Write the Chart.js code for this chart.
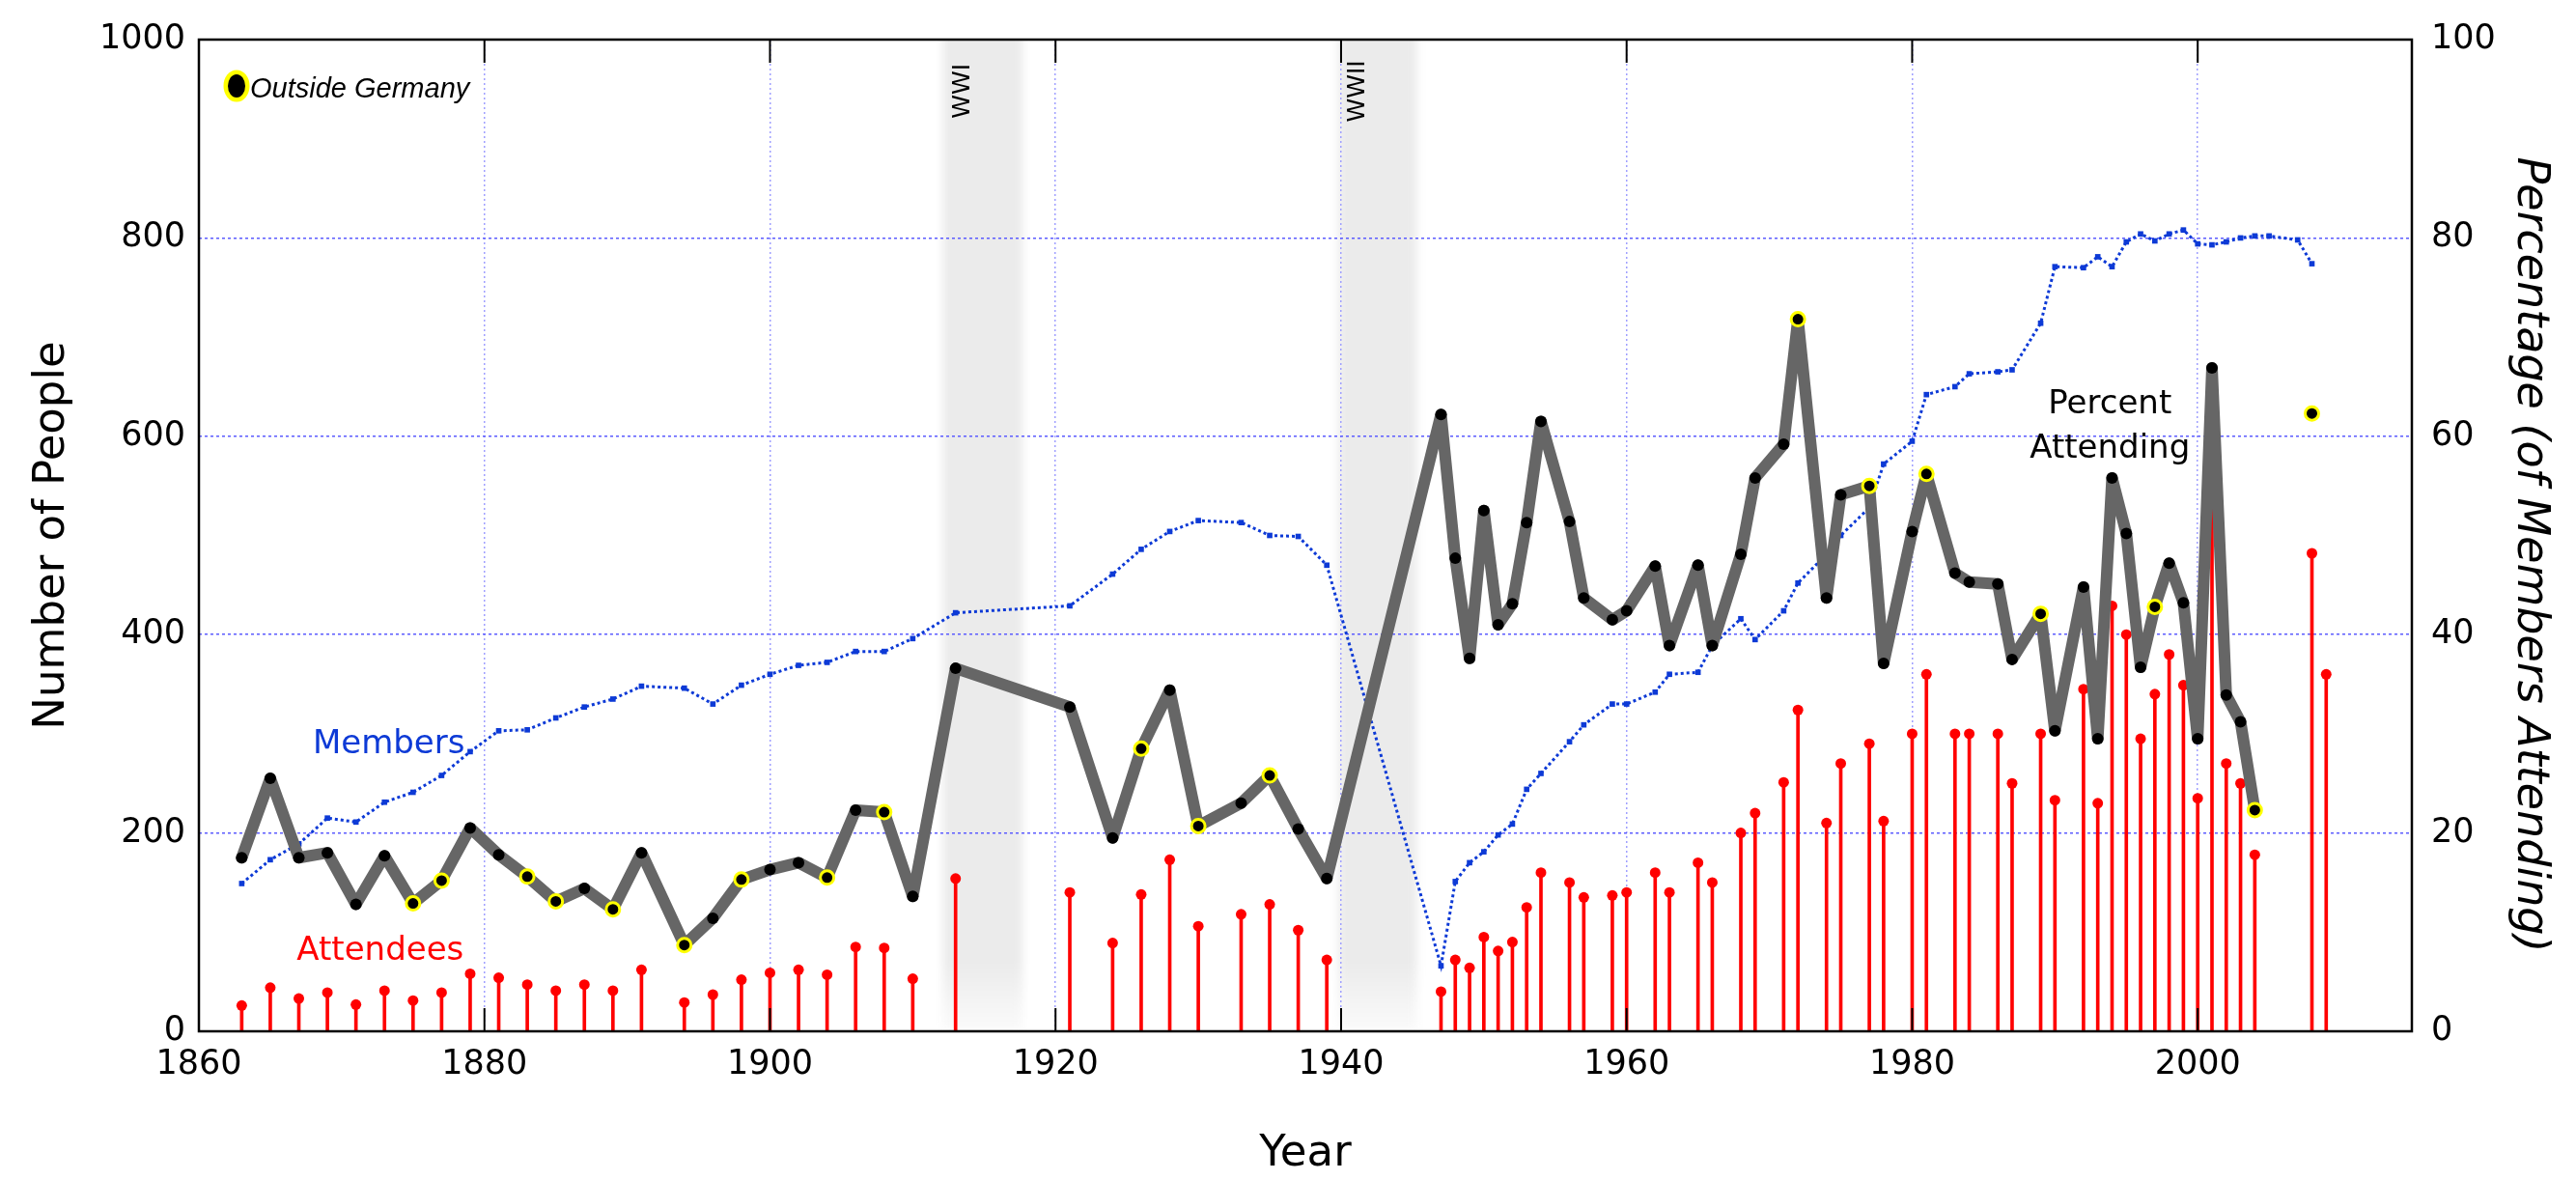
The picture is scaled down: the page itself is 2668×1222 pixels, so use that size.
<!DOCTYPE html>
<html>
<head>
<meta charset="utf-8">
<title>Members, Attendees and Percent Attending</title>
<script src="https://cdn.jsdelivr.net/npm/chart.js@4.4.1/dist/chart.umd.min.js"></script>
<style>
  html, body { margin: 0; padding: 0; background: #ffffff; }
  #grafico { display: block; }
</style>
</head>
<body>
<canvas id="grafico" width="2668" height="1222"></canvas>
<script>
// Años con reunión (asistentes y porcentaje)
const meetingYears = [1863, 1865, 1867, 1869, 1871, 1873, 1875, 1877, 1879, 1881, 1883, 1885, 1887, 1889, 1891,
  1894, 1896, 1898, 1900, 1902, 1904, 1906, 1908, 1910, 1913, 1921, 1924, 1926, 1928, 1930, 1933, 1935, 1937, 1939,
  1947, 1948, 1949, 1950, 1951, 1952, 1953, 1954, 1956, 1957, 1959, 1960, 1962, 1963, 1965, 1966, 1968, 1969,
  1971, 1972, 1974, 1975, 1977, 1978, 1980, 1981, 1983, 1984, 1986, 1987, 1989, 1990, 1992, 1993, 1994, 1995,
  1996, 1997, 1998, 1999, 2000, 2001, 2002, 2003, 2004, 2008, 2009];

const attendees = [26, 44, 33, 39, 27, 41, 31, 39, 58, 54, 47, 41, 47, 41, 62,
  29, 37, 52, 59, 62, 57, 85, 84, 53, 154, 140, 89, 138, 173, 106, 118, 128, 102, 72,
  40, 72, 64, 95, 81, 90, 125, 160, 150, 135, 137, 140, 160, 140, 170, 150, 200, 220,
  251, 324, 210, 270, 290, 212, 300, 360, 300, 300, 300, 250, 300, 233, 345, 230, 429, 400,
  295, 340, 380, 349, 235, 522, 270, 250, 178, 482, 360];

// Porcentaje de miembros que asistieron (eje derecho)
const percentAttending = [17.5, 25.5, 17.5, 18.0, 12.8, 17.7, 12.9, 15.2, 20.5, 17.8, 15.6, 13.1, 14.4, 12.3, 18.0,
  8.7, 11.4, 15.3, 16.3, 17.0, 15.5, 22.3, 22.1, 13.6, 36.6, 32.7, 19.5, 28.5, 34.4, 20.7, 23.0, 25.8, 20.4, 15.4,
  62.2, 47.7, 37.6, 52.5, 41.0, 43.1, 51.3, 61.5, 51.4, 43.7, 41.5, 42.4, 46.9, 38.9, 47.0, 38.9, 48.1, 55.8,
  59.2, 71.8, 43.7, 54.1, 55.0, 37.1, 50.4, 56.2, 46.2, 45.3, 45.1, 37.5, 42.1, 30.3, 44.8, 29.5, 55.8, 50.2,
  36.7, 42.8, 47.2, 43.2, 29.5, 66.9, 33.9, 31.2, 22.3, 62.3, null];

// Miembros
const memberYears = [1863, 1865, 1867, 1869, 1871, 1873, 1875, 1877, 1879, 1881, 1883, 1885, 1887, 1889, 1891,
  1894, 1896, 1898, 1900, 1902, 1904, 1906, 1908, 1910, 1913, 1921, 1924, 1926, 1928, 1930, 1933, 1935, 1937, 1939,
  1947, 1948, 1949, 1950, 1951, 1952, 1953, 1954, 1956, 1957, 1959, 1960, 1962, 1963, 1965, 1966, 1968, 1969,
  1971, 1972, 1974, 1975, 1977, 1978, 1980, 1981, 1983, 1984, 1986, 1987, 1989, 1990, 1992, 1993, 1994, 1995,
  1996, 1997, 1998, 1999, 2000, 2001, 2002, 2003, 2004, 2005, 2007, 2008];

const members = [149, 173, 189, 215, 211, 231, 241, 258, 282, 303, 304, 316, 327, 335, 348,
  346, 330, 349, 360, 369, 372, 383, 383, 396, 422, 429, 461, 486, 504, 515, 513, 500, 499, 470,
  66, 151, 170, 181, 198, 209, 244, 260, 292, 309, 330, 330, 342, 360, 362, 389, 416, 395,
  424, 452, 481, 500, 528, 572, 595, 642, 650, 663, 665, 667, 714, 771, 770, 781, 771, 796,
  804, 797, 804, 808, 794, 793, 796, 800, 802, 802, 798, 774];

// Reuniones fuera de Alemania
const outsideGermany = [1875, 1877, 1883, 1885, 1889, 1894, 1898, 1904, 1908, 1926, 1930, 1935,
  1972, 1977, 1981, 1989, 1997, 2004, 2008];

const xTicks = [1860, 1880, 1900, 1920, 1940, 1960, 1980, 2000];
const yTicks = [0, 200, 400, 600, 800, 1000];
const y2Ticks = [0, 20, 40, 60, 80, 100];

const warNames = ['WWI', 'WWII'];
const warStart = [1912.1, 1939.8];
const warEnd = [1917.7, 1945.3];

const azul = '#0d3ad6';
const fuente = 'DejaVu Sans';

// Puntos del porcentaje: los años con miembros pero sin reunión cortan la línea
const todosLosAnios = Array.from(new Set([...meetingYears, ...memberYears])).sort((a, b) => a - b);
const puntosPorcentaje = todosLosAnios.map(anio => {
  const i = meetingYears.indexOf(anio);
  return { x: anio, y: i >= 0 ? percentAttending[i] : null };
});

const esFuera = c => c.raw && outsideGermany.includes(c.raw.x);
const sinComas = v => String(v);

// Bandas grises de las guerras (debajo de la rejilla)
const guerrasPlugin = {
  id: 'guerras',
  beforeDraw(chart) {
    const { ctx, chartArea: a, scales: { x } } = chart;
    ctx.save();
    ctx.beginPath();
    ctx.rect(a.left, a.top, a.right - a.left, a.bottom - a.top);
    ctx.clip();
    ctx.filter = 'blur(4px)';
    const g = ctx.createLinearGradient(0, a.top, 0, a.bottom);
    g.addColorStop(0, '#ebebeb');
    g.addColorStop(0.93, '#ebebeb');
    g.addColorStop(1, '#fbfbfb');
    ctx.fillStyle = g;
    warNames.forEach((n, i) => {
      const x0 = x.getPixelForValue(warStart[i]);
      const x1 = x.getPixelForValue(warEnd[i]);
      ctx.fillRect(x0, a.top - 30, x1 - x0, a.bottom - a.top + 30);
    });
    ctx.restore();
  }
};

// Marco, marcas hacia adentro y textos
const marcoPlugin = {
  id: 'marco',
  afterDraw(chart) {
    const { ctx, chartArea: a, scales } = chart;
    const sx = scales.x, sy = scales.y;
    ctx.save();

    ctx.strokeStyle = '#000000';
    ctx.lineWidth = 2;
    ctx.beginPath();
    xTicks.forEach(v => {
      const px = sx.getPixelForValue(v);
      ctx.moveTo(px, a.bottom); ctx.lineTo(px, a.bottom - 24);
      ctx.moveTo(px, a.top); ctx.lineTo(px, a.top + 24);
    });
    ctx.stroke();
    ctx.lineWidth = 2.5;
    ctx.strokeRect(a.left, a.top, a.right - a.left, a.bottom - a.top);

    // Título del eje derecho (un poco más abajo que el centro, como el original)
    ctx.save();
    ctx.font = 'italic 46px "' + fuente + '"';
    ctx.fillStyle = '#000000';
    ctx.textAlign = 'center';
    ctx.textBaseline = 'middle';
    ctx.translate(chart.width - 48, (a.top + a.bottom) / 2 + 20);
    ctx.rotate(Math.PI / 2);
    ctx.fillText('Percentage (of Members Attending)', 0, 0);
    ctx.restore();

    // Etiquetas de las series
    ctx.textAlign = 'center';
    ctx.textBaseline = 'alphabetic';
    ctx.font = '34px "' + fuente + '"';
    ctx.fillStyle = azul;
    ctx.fillText('Members', sx.getPixelForValue(1873.3), sy.getPixelForValue(280));
    ctx.fillStyle = '#ff0000';
    ctx.fillText('Attendees', sx.getPixelForValue(1872.7), sy.getPixelForValue(72));
    ctx.fillStyle = '#000000';
    ctx.fillText('Percent', sx.getPixelForValue(1993.85), sy.getPixelForValue(623));
    ctx.fillText('Attending', sx.getPixelForValue(1993.85), sy.getPixelForValue(578));

    // Nombres de las guerras, girados
    ctx.font = '25px "' + fuente + '"';
    ctx.textBaseline = 'middle';
    [1913.5, 1941.2].forEach((anio, i) => {
      ctx.save();
      ctx.translate(sx.getPixelForValue(anio), sy.getPixelForValue(948));
      ctx.rotate(-Math.PI / 2);
      ctx.fillText(warNames[i], 0, 0);
      ctx.restore();
    });

    // Leyenda "Outside Germany"
    const lx = a.left + 39, ly = a.top + 48;
    ctx.fillStyle = '#ffff00';
    ctx.beginPath(); ctx.ellipse(lx, ly, 13.5, 16.5, 0, 0, Math.PI * 2); ctx.fill();
    ctx.fillStyle = '#000000';
    ctx.beginPath(); ctx.ellipse(lx, ly, 9, 12, 0, 0, Math.PI * 2); ctx.fill();
    ctx.font = 'italic 29px "Liberation Sans"';
    ctx.textAlign = 'left';
    ctx.textBaseline = 'alphabetic';
    ctx.fillText('Outside Germany', a.left + 53, a.top + 60);

    ctx.restore();
  }
};

function dibujarGrafica() {
  const ctx = document.getElementById('grafico').getContext('2d');
  const datosAsistentes = meetingYears.map((anio, i) => ({ x: anio, y: attendees[i] }));

  new Chart(ctx, {
    type: 'line',
    data: {
      datasets: [
        {
          type: 'bar',
          label: 'Attendees',
          data: datosAsistentes,
          backgroundColor: '#ff0000',
          borderWidth: 0,
          barThickness: 3,
          grouped: false,
          yAxisID: 'y',
          order: 3
        },
        {
          type: 'line',
          label: 'Attendees',
          data: datosAsistentes,
          showLine: false,
          pointRadius: 5.5,
          pointBackgroundColor: '#ff0000',
          pointBorderWidth: 0,
          yAxisID: 'y',
          order: 2
        },
        {
          type: 'line',
          label: 'Members',
          data: memberYears.map((anio, i) => ({ x: anio, y: members[i] })),
          borderColor: azul,
          borderWidth: 3,
          borderDash: [3, 3],
          pointStyle: 'rect',
          pointRadius: 4,
          pointBackgroundColor: azul,
          pointBorderWidth: 0,
          tension: 0,
          yAxisID: 'y',
          order: 1
        },
        {
          type: 'line',
          label: 'Percent Attending',
          data: puntosPorcentaje,
          borderColor: '#666666',
          borderWidth: 12,
          borderJoinStyle: 'round',
          borderCapStyle: 'round',
          spanGaps: false,
          pointRadius: c => esFuera(c) ? 7 : 6,
          pointBorderWidth: c => esFuera(c) ? 3 : 0,
          pointBorderColor: c => esFuera(c) ? '#ffff00' : '#000000',
          pointBackgroundColor: '#000000',
          tension: 0,
          yAxisID: 'y1',
          order: 0
        }
      ]
    },
    options: {
      responsive: false,
      animation: false,
      devicePixelRatio: 1,
      events: [],
      layout: { padding: { top: 28, right: 0, bottom: 0, left: 0 } },
      plugins: {
        legend: { display: false },
        tooltip: { enabled: false }
      },
      scales: {
        x: {
          type: 'linear',
          min: 1860,
          max: 2015,
          offset: false,
          afterBuildTicks: s => { s.ticks = xTicks.map(v => ({ value: v })); },
          afterFit: s => { s.height = 154; },
          grid: { color: '#a0a0ff', lineWidth: 1.5, drawTicks: false, offset: false },
          border: { display: false, dash: [2, 3] },
          ticks: { color: '#000000', font: { family: fuente, size: 35 }, padding: 14, maxRotation: 0, autoSkip: false, callback: sinComas },
          title: { display: true, text: 'Year', color: '#000000', font: { family: fuente, size: 45 }, padding: { top: 0, bottom: 0 } }
        },
        y: {
          position: 'left',
          min: 0,
          max: 1000,
          afterBuildTicks: s => { s.ticks = yTicks.map(v => ({ value: v })); },
          afterFit: s => { s.width = 206; },
          grid: { color: '#5c5cff', lineWidth: 1.5, drawTicks: false },
          border: { display: false, dash: [3, 3] },
          ticks: { color: '#000000', font: { family: fuente, size: 35 }, padding: 14, callback: sinComas },
          title: { display: true, text: 'Number of People', color: '#000000', font: { family: fuente, size: 45 }, padding: { top: 27, bottom: 0 } }
        },
        y1: {
          position: 'right',
          min: 0,
          max: 100,
          afterBuildTicks: s => { s.ticks = y2Ticks.map(v => ({ value: v })); },
          afterFit: s => { s.width = 170; },
          grid: { drawOnChartArea: false, drawTicks: false },
          border: { display: false },
          ticks: { color: '#000000', font: { family: fuente, size: 35 }, padding: 20, callback: sinComas },
          title: { display: false }
        }
      }
    },
    plugins: [guerrasPlugin, marcoPlugin]
  });
}

dibujarGrafica();
</script>
</body>
</html>
